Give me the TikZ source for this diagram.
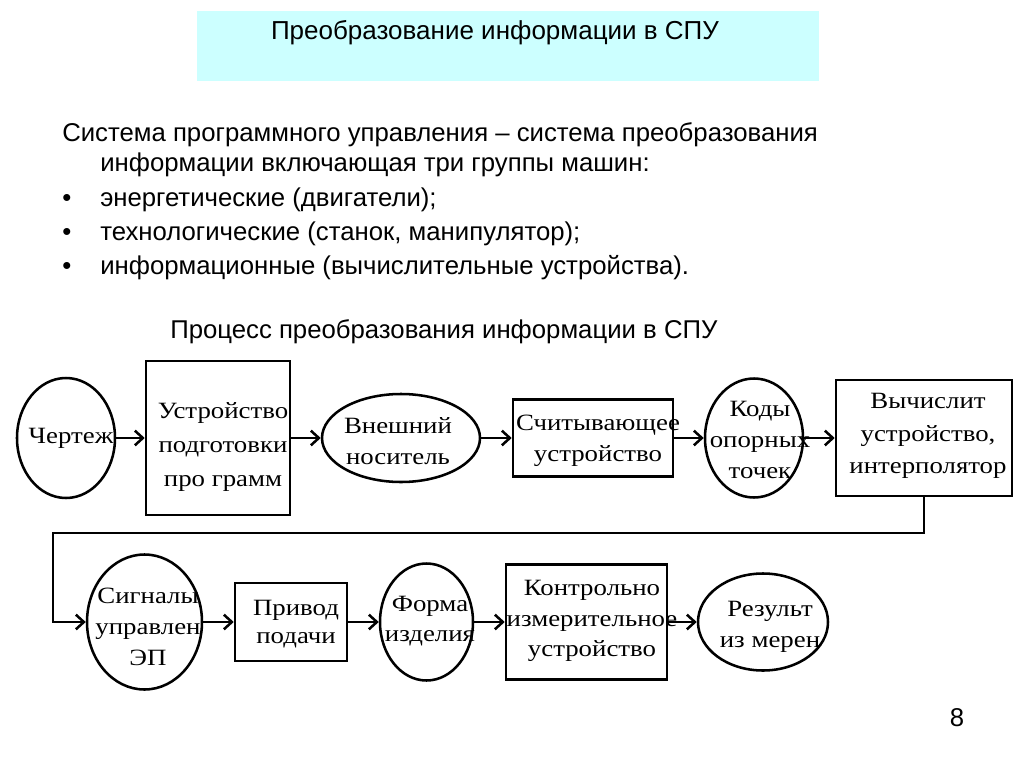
\documentclass[tikz,border=0pt]{standalone}
\usepackage{fontspec}
\setmainfont{Liberation Serif}
\newfontfamily\slidefont{Liberation Sans}
\newfontfamily\blockfont[FakeStretch=1.15]{Liberation Serif}
\usetikzlibrary{shapes.geometric,arrows.meta}

\definecolor{titlecyan}{RGB}{204,255,255}

\begin{document}
\begin{tikzpicture}[x=0.75pt,y=0.75pt,yscale=-1,xscale=1,
	blk/.style={draw, line width=1.9pt, inner sep=0pt},
	ovalblk/.style={blk, ellipse},
	rectblk/.style={blk, rectangle},
	lbl/.style={inner sep=0pt, align=center, font=\blockfont\fontsize{17.5}{23}\selectfont},
	flow/.style={line width=1.9pt, -{Straight Barb[length=6pt,width=11pt]}},
	slide/.style={inner sep=0pt, anchor=west, font=\slidefont\fontsize{19.3}{22}\selectfont}]
	\useasboundingbox (0,0) rectangle (1024,767);
	
	%Shape: Rectangle [title]
	\fill [titlecyan] (197,11) rectangle (819,81);
	% Text Node
	\node [slide, anchor=center, font=\slidefont\fontsize{19.5}{22}\selectfont] (title) at (495,33) {Преобразование информации в СПУ};
	
	% Text Node
	\node [slide] (intro1) at (62,135) {Система программного управления – система преобразования};
	\node [slide] (intro2) at (100,165) {информации включающая три группы машин:};
	\node [slide] (bul1) at (62,200) {•};
	\node [slide] (item1) at (100,200) {энергетические (двигатели);};
	\node [slide] (bul2) at (62,234) {•};
	\node [slide] (item2) at (100,234) {технологические (станок, манипулятор);};
	\node [slide] (bul3) at (62,268) {•};
	\node [slide] (item3) at (100,268) {информационные (вычислительные устройства).};
	% Text Node
	\node [slide] (proc) at (170,332) {Процесс преобразования информации в СПУ};
	
	%Shape: Ellipse / Rectangle - upper row
	\node [ovalblk, minimum width=73.5pt, minimum height=90pt] (chertezh) at (66,438) {};
	\node [rectblk, minimum width=108pt, minimum height=115.5pt] (podgot) at (218,438) {};
	\node [ovalblk, minimum width=118.5pt, minimum height=66pt] (nositel) at (401,438) {};
	\node [rectblk, minimum width=120pt, minimum height=57.75pt] (schit) at (593,438) {};
	\node [ovalblk, minimum width=73.5pt, minimum height=89.25pt] (kody) at (754,438) {};
	\node [rectblk, minimum width=132pt, minimum height=87pt] (vychisl) at (924,438) {};
	
	%Shape: Ellipse / Rectangle - lower row
	\node [ovalblk, minimum width=86.25pt, minimum height=101.25pt] (signaly) at (144.5,622) {};
	\node [rectblk, minimum width=84pt, minimum height=58.5pt] (privod) at (291,622) {};
	\node [ovalblk, minimum width=69.75pt, minimum height=87.75pt] (forma) at (426.5,622) {};
	\node [rectblk, minimum width=120.75pt, minimum height=86.25pt] (kontrol) at (586.5,622) {};
	\node [ovalblk, minimum width=97.5pt, minimum height=72.75pt] (rezult) at (763,622) {};
	
	% Text Node
	\node [lbl] (t-chertezh) at (71,438) {Чертеж};
	\node [lbl, font=\blockfont\fontsize{17.5}{25.5}\selectfont] (t-podgot) at (223,447) {Устройство\\подготовки\\про грамм};
	\node [lbl] (t-nositel) at (398,441) {Внешний\\носитель};
	\node [lbl] (t-schit) at (598,441) {Считывающее\\устройство};
	\node [lbl] (t-kody) at (760,440) {Коды\\опорных\\точек};
	\node [lbl, font=\blockfont\fontsize{17.5}{24.5}\selectfont] (t-vychisl) at (928,436) {Вычислит\\устройство,\\интерполятор};
	\node [lbl] (t-signaly) at (148,627) {Сигналы\\управлен\\ЭП};
	\node [lbl, font=\blockfont\fontsize{17.5}{21}\selectfont] (t-privod) at (296,624) {Привод\\подачи};
	\node [lbl] (t-forma) at (430,621) {Форма\\изделия};
	\node [lbl] (t-kontrol) at (592,621) {Контрольно\\измерительное\\устройство};
	\node [lbl] (t-rezult) at (770,627) {Результ\\из мерен};
	
	%Straight Lines
	\draw [flow] (chertezh) -- (podgot);
	\draw [flow] (podgot) -- (nositel);
	\draw [flow] (nositel) -- (schit);
	\draw [flow] (schit) -- (kody);
	\draw [flow] (kody) -- (vychisl);
	\coordinate (back) at (53,533);
	\draw [flow] (vychisl.south) |- (back) |- (signaly.west);
	\draw [flow] (signaly) -- (privod);
	\draw [flow] (privod) -- (forma);
	\draw [flow] (forma) -- (kontrol);
	\draw [flow] (kontrol) -- (rezult);
	
	% Text Node
	\node [slide, anchor=center] (page) at (957,718) {8};
\end{tikzpicture}
\end{document}
